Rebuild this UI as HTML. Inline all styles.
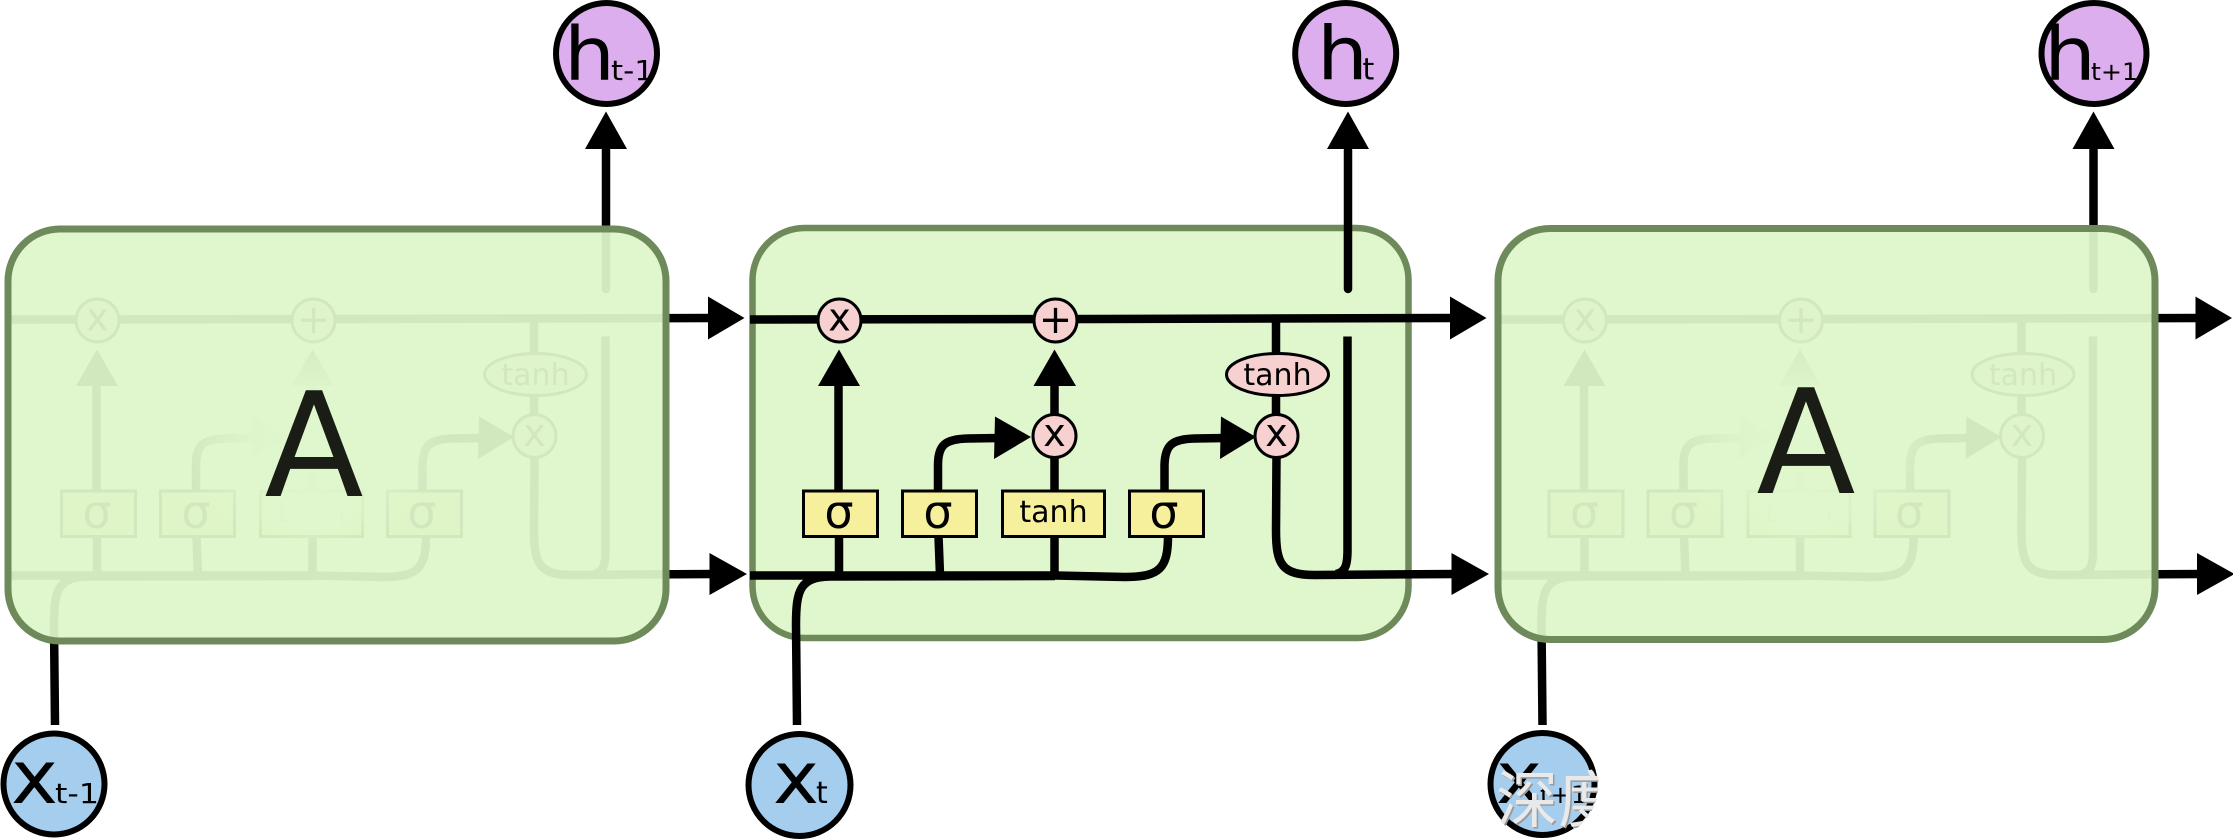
<!DOCTYPE html>
<html>
<head>
<meta charset="utf-8">
<style>
html,body{margin:0;padding:0;background:#fff;width:2233px;height:839px;overflow:hidden}
svg{display:block}
text{font-family:"DejaVu Sans","Liberation Sans","Noto Sans CJK SC",sans-serif;fill:#000}
.l{fill:none;stroke:#000;stroke-width:8.5}
.ops{fill:#f7d0d0;stroke:#000;stroke-width:3}
.y{fill:#f6ef9b;stroke:#000;stroke-width:3}
.m{text-anchor:middle}
.h{fill:#dcaeed;stroke:#000;stroke-width:6}
.x{fill:#a4cdee;stroke:#000;stroke-width:6}
</style>
</head>
<body>
<svg width="2233" height="839" viewBox="0 0 2233 839" xmlns="http://www.w3.org/2000/svg">
<defs>
<radialGradient id="halo">
<stop offset="0" stop-color="#e0f6cd" stop-opacity="0.95"/>
<stop offset="0.45" stop-color="#e0f6cd" stop-opacity="0.9"/>
<stop offset="1" stop-color="#e0f6cd" stop-opacity="0"/>
</radialGradient>
<clipPath id="xc"><circle cx="1542.5" cy="784" r="56"/></clipPath>
<g id="cell">
  <!-- cell state -->
  <path class="l" d="M750 319.5 L1100 319 L1455 318"/>
  <path d="M1450 296.5 L1486.5 318 L1450 339.5 Z"/>
  <!-- bottom line -->
  <path class="l" d="M750 575.5 L1055 575.5 L1125 577 C1160 577 1168 568 1168 536"/>
  <path class="l" d="M797 725 L796 625 C796 590 800 577 830 576.5 L1055 576"/>
  <!-- right return -->
  <path class="l" d="M1276.5 455 L1276 530 C1276 565 1282 575 1315 575 L1456 574"/>
  <path d="M1451.5 553 L1489 574 L1451.5 595 Z"/>
  <path class="l" d="M1347.5 336.5 L1347.5 550 C1347.5 566 1345 572 1336 574"/>
  <!-- output -->
  <path class="l" d="M1348 150 L1348 289" stroke-linecap="round"/>
  <path d="M1327 149 L1348 111.5 L1369 149 Z"/>
  <!-- verticals -->
  <path class="l" d="M839 536 L839 575 M838.5 491 L838.5 384"/>
  <path d="M818 386 L839 349.5 L860 386 Z"/>
  <path class="l" d="M938.5 536 L940 575 M1054.5 536 L1054.5 575 M1054.5 490 L1054.5 384"/>
  <path d="M1033.5 386 L1054.5 349.5 L1076 386 Z"/>
  <path class="l" d="M1276 319 L1276 436"/>
  <!-- curved arrows -->
  <path class="l" d="M938 491 L938 465 C938 445 945 439 968 438.5 L1000 438"/>
  <path d="M995 416.5 L1031 437 L994 459 Z"/>
  <path class="l" d="M1164.5 491 L1164.5 465 C1165 445 1172 439 1195 438.5 L1226 438"/>
  <path d="M1221 416.5 L1256 437 L1220 459 Z"/>
  <!-- boxes -->
  <rect class="y" x="803.5" y="491" width="74" height="45.5"/>
  <rect class="y" x="902.5" y="491" width="74" height="45.5"/>
  <rect class="y" x="1002.5" y="491" width="102" height="45.5" stroke-width="3.5"/>
  <rect class="y" x="1129.5" y="491" width="74" height="45.5"/>
  <text class="m" x="839" y="528" font-size="46">σ</text>
  <text class="m" x="938" y="528" font-size="46">σ</text>
  <text class="m" x="1053.5" y="522" font-size="30">tanh</text>
  <text class="m" x="1164" y="528" font-size="46">σ</text>
  <!-- ops -->
  <ellipse class="ops" cx="839.5" cy="320.5" rx="21.5" ry="21.5"/>
  <ellipse class="ops" cx="1055.5" cy="320.5" rx="21.5" ry="21.5"/>
  <ellipse class="ops" cx="1054.5" cy="436" rx="21.5" ry="21.5"/>
  <ellipse class="ops" cx="1276.5" cy="436" rx="21.5" ry="21.5"/>
  <ellipse class="ops" cx="1277.5" cy="374.5" rx="51" ry="21"/>
  <text class="m" x="839.5" y="330.5" font-size="38">x</text>
  <text class="m" x="1055.5" y="333" font-size="40">+</text>
  <text class="m" x="1054.5" y="446" font-size="38">x</text>
  <text class="m" x="1276.5" y="446" font-size="38">x</text>
  <text class="m" x="1277.5" y="385" font-size="30">tanh</text>
</g>
</defs>

<!-- middle cell -->
<rect x="752.5" y="228" width="656" height="410" rx="52" ry="52" fill="#e0f6cd" stroke="#6f8a5a" stroke-width="6.5"/>

<!-- repeated cells -->
<use href="#cell" transform="translate(-742,0)"/>
<use href="#cell"/>
<use href="#cell" transform="translate(745.5,0)"/>

<!-- left overlay -->
<rect x="8" y="229" width="658" height="412" rx="52" ry="52" fill="#def5ca" fill-opacity="0.94" stroke="#6f8a5a" stroke-width="7"/>
<ellipse cx="313" cy="440" rx="130" ry="110" fill="url(#halo)"/>
<ellipse cx="312" cy="512" rx="60" ry="26" fill="url(#halo)"/>
<text class="m" x="314" y="496" font-size="145" style="fill:#1a1c16">A</text>

<!-- right overlay -->
<rect x="1498" y="228.5" width="657" height="411" rx="52" ry="52" fill="#def5ca" fill-opacity="0.94" stroke="#6f8a5a" stroke-width="7"/>
<ellipse cx="1806" cy="440" rx="130" ry="110" fill="url(#halo)"/>
<ellipse cx="1800" cy="512" rx="60" ry="26" fill="url(#halo)"/>
<text class="m" x="1806" y="493" font-size="145" style="fill:#1a1c16">A</text>

<!-- h nodes -->
<ellipse class="h" cx="606.5" cy="53.5" rx="50.5" ry="50.5"/>
<text x="564" y="80" font-size="74" textLength="51" lengthAdjust="spacingAndGlyphs">h</text>
<text x="611" y="80" font-size="28" textLength="43" lengthAdjust="spacingAndGlyphs">t-1</text>

<ellipse class="h" cx="1345.7" cy="53.5" rx="50.5" ry="50.5"/>
<text x="1317" y="79.5" font-size="74" textLength="51" lengthAdjust="spacingAndGlyphs">h</text>
<text x="1362.5" y="79.5" font-size="30">t</text>

<ellipse class="h" cx="2094" cy="53.5" rx="52.5" ry="50.5"/>
<text x="2044" y="80" font-size="74" textLength="52" lengthAdjust="spacingAndGlyphs">h</text>
<text x="2091" y="80" font-size="24" textLength="47" lengthAdjust="spacingAndGlyphs">t+1</text>

<!-- x nodes -->
<ellipse class="x" cx="54" cy="784" rx="50.5" ry="50.5"/>
<text x="11" y="803" font-size="74" textLength="47" lengthAdjust="spacingAndGlyphs">x</text>
<text x="55" y="803" font-size="28" textLength="44" lengthAdjust="spacingAndGlyphs">t-1</text>

<ellipse class="x" cx="799.5" cy="785" rx="51" ry="51"/>
<text x="773" y="803" font-size="72" textLength="46" lengthAdjust="spacingAndGlyphs">x</text>
<text x="816" y="803" font-size="30">t</text>

<ellipse class="x" cx="1542.5" cy="784" rx="52" ry="51"/>
<text x="1496" y="803" font-size="72" textLength="46" lengthAdjust="spacingAndGlyphs">x</text>
<text x="1540" y="803" font-size="24" textLength="47" lengthAdjust="spacingAndGlyphs">t+1</text>

<!-- watermark -->
<g clip-path="url(#xc)">
<text x="1497.5" y="823.5" style="fill:#9a9a9a;font-family:'Noto Sans CJK SC',sans-serif;font-size:62px">深度</text>
<text x="1496" y="822" style="fill:#e9e9e9;font-family:'Noto Sans CJK SC',sans-serif;font-size:62px">深度</text>
</g>
</svg>
</body>
</html>
